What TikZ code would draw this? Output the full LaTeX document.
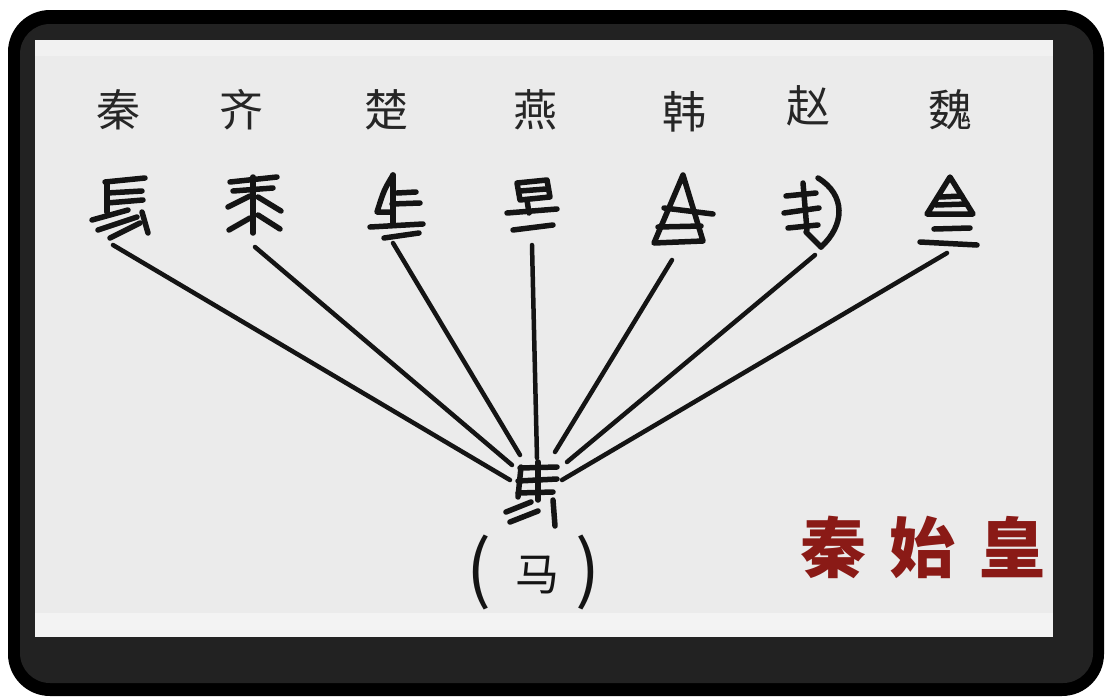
\documentclass[tikz,border=0pt]{standalone}
\usepackage{fontspec}
\newfontfamily\cjk{Noto Sans CJK SC}
\definecolor{ink}{HTML}{141414}
\definecolor{panelc}{HTML}{EBEBEB}
\definecolor{framec}{HTML}{222222}
\definecolor{sealred}{HTML}{8A1A16}
\definecolor{labelc}{HTML}{262626}
\begin{document}
\begin{tikzpicture}[x=1pt,y=-1pt,
  statelabel/.style={font=\cjk\fontsize{44}{44}\selectfont, text=labelc, inner sep=0pt},
  glyphstroke/.style={draw=ink, line width=5.5pt, line cap=round, line join=round},
  conn/.style={draw=ink, line width=4.5pt, line cap=round},
  paren/.style={font=\cjk\fontsize{74}{74}\selectfont, text=ink, inner sep=0pt},
  horse/.style={font=\cjk\fontsize{44}{44}\selectfont, text=ink, inner sep=0pt},
  seal/.style={font=\cjk\bfseries\fontsize{66}{66}\selectfont, text=sealred, inner sep=0pt}]
\useasboundingbox (0,0) rectangle (1106,697);
\fill[white] (0,0) rectangle (1106,697);
% frame
\fill[black, rounded corners=42pt] (8,10) rectangle (1104,696);
\fill[framec, rounded corners=30pt] (20,24) rectangle (1093,683);
\fill[panelc] (35,40) rectangle (1053,637);
\fill[white!30!panelc] (35,40) rectangle (1053,56);
\fill[white!40!panelc] (35,613) rectangle (1053,637);

% state names
\node[statelabel] (qin)   at (118,110) {秦};
\node[statelabel] (qi)    at (241,110) {齐};
\node[statelabel] (chu)   at (386,110) {楚};
\node[statelabel] (yan)   at (535,110) {燕};
\node[statelabel] (han)   at (684,112) {韩};
\node[statelabel] (zhao)  at (808,106) {赵};
\node[statelabel] (wei)   at (950,110) {魏};

% ancient glyphs (drawn)
% Qin
\draw[glyphstroke] (105,182) -- (145,178);
\draw[glyphstroke] (107,182) -- (107,212);
\draw[glyphstroke] (107,193) -- (142,191);
\draw[glyphstroke] (107,203) -- (143,200);
\draw[glyphstroke] (92,220) -- (128,210);
\draw[glyphstroke] (98,230) -- (137,217);
\draw[glyphstroke] (110,238) -- (140,223);
\draw[glyphstroke] (142,212) -- (148,233);
% Qi
\draw[glyphstroke] (230,182) -- (277,177);
\draw[glyphstroke] (233,191) -- (273,188);
\draw[glyphstroke] (253,177) -- (253,233);
\draw[glyphstroke] (228,207) -- (250,196);
\draw[glyphstroke] (229,230) -- (250,218);
\draw[glyphstroke] (258,197) -- (281,211);
\draw[glyphstroke] (258,215) -- (280,229);
% Chu
\draw[glyphstroke] (393,175) .. controls (384,190) .. (377,212) -- (392,212);
\draw[glyphstroke] (393,175) -- (393,225);
\draw[glyphstroke] (397,193) -- (416,192);
\draw[glyphstroke] (392,204) -- (420,203);
\draw[glyphstroke] (370,227) -- (423,224);
\draw[glyphstroke] (384,238) -- (419,233);
% Yan
\draw[glyphstroke] (517,183) -- (547,180) -- (550,197) -- (520,200) -- cycle;
\draw[glyphstroke] (520,191) -- (546,189);
\draw[glyphstroke] (507,213) -- (557,209);
\draw[glyphstroke] (527,200) -- (529,213);
\draw[glyphstroke] (513,230) -- (553,225);
% Han
\draw[glyphstroke] (683,175) -- (654,243) -- (703,241) -- (683,175);
\draw[glyphstroke] (664,208) -- (713,214);
\draw[glyphstroke] (658,227) -- (701,226);
% Zhao
\draw[glyphstroke] (786,196) -- (816,193);
\draw[glyphstroke] (784,213) -- (819,208);
\draw[glyphstroke] (788,228) -- (818,225);
\draw[glyphstroke] (803,183) -- (807,230);
\draw[glyphstroke] (818,178) .. controls (846,195) and (845,225) .. (821,247);
\draw[glyphstroke] (806,232) -- (821,247);
% Wei
\draw[glyphstroke] (950,177) -- (927,214) -- (973,214) -- cycle;
\draw[glyphstroke] (940,197) -- (962,196);
\draw[glyphstroke] (936,205) -- (967,204);
\draw[glyphstroke] (934,229) -- (970,228);
\draw[glyphstroke] (920,242) -- (977,245);
% centre glyph
\draw[glyphstroke] (520,468) -- (557,467);
\draw[glyphstroke] (518,481) -- (557,479);
\draw[glyphstroke] (518,493) -- (553,492);
\draw[glyphstroke] (521,467) -- (518,497);
\draw[glyphstroke] (538,462) -- (538,500);
\draw[glyphstroke] (506,512) -- (531,502);
\draw[glyphstroke] (510,522) -- (538,511);
\draw[glyphstroke] (553,500) -- (555,526);

% connector end points
\coordinate (s1) at (113,245);
\coordinate (s2) at (255,247);
\coordinate (s3) at (393,243);
\coordinate (s4) at (532,245);
\coordinate (s5) at (672,260);
\coordinate (s6) at (815,255);
\coordinate (s7) at (947,253);
\coordinate (e1) at (510,480);
\coordinate (e2) at (512,465);
\coordinate (e3) at (520,455);
\coordinate (e4) at (537,458);
\coordinate (e5) at (555,452);
\coordinate (e6) at (567,462);
\coordinate (e7) at (562,480);
\foreach \i in {1,...,7} \draw[conn] (s\i) -- (e\i);

% (马)
\node[paren] (lp) at (479,572) {(};
\node[horse] (ma) at (537,575) {马};
\node[paren] (rp) at (588,572) {)};

% 秦始皇
\node[seal] (title) at (923,547) {秦\hspace{24pt}始\hspace{24pt}皇};
\end{tikzpicture}
\end{document}
